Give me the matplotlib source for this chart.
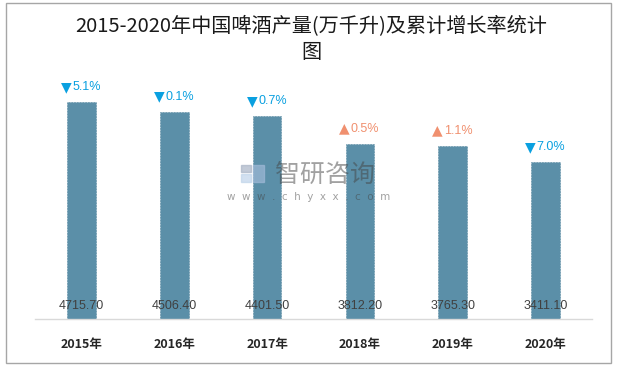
import matplotlib
matplotlib.use("Agg")
import matplotlib.pyplot as plt
from matplotlib.patches import Rectangle

years = ["2015年", "2016年", "2017年", "2018年", "2019年", "2020年"]
output = [4715.70, 4506.40, 4401.50, 3812.20, 3765.30, 3411.10]
growth = [-5.1, -0.1, -0.7, 0.5, 1.1, -7.0]
title = "2015-2020年中国啤酒产量(万千升)及累计增长率统计\n图"

BAR = "#5B8FA8"
DOWN = "#0AA0E0"
UP = "#F0906F"

fig = plt.figure(figsize=(6.2, 3.68), dpi=100)
fig.patches.append(Rectangle((6/620, 5/368), 605/620, 360/368, transform=fig.transFigure,
                             fill=False, edgecolor="#A6A6A6", linewidth=1.0))

ax = fig.add_axes([35/620, (368-319)/368, 557/620, (319-70)/368])
x = list(range(len(years)))
ax.bar(x, output, width=0.31, color=BAR, edgecolor="#52849C", linewidth=0.4,
       linestyle=(0, (3, 2)))
ax.set_xlim(-0.5, len(years) - 0.5)
ax.set_ylim(0, 5410)

for s in ["top", "left", "right"]:
    ax.spines[s].set_visible(False)
ax.spines["bottom"].set_color("#D9D9D9")
ax.spines["bottom"].set_linewidth(1.0)
ax.set_yticks([])
ax.set_xticks(x)
ax.set_xticklabels(years, fontsize=9, fontweight="bold", color="#262626",
                   family=["Noto Sans CJK SC", "DejaVu Sans"])
ax.tick_params(axis="x", length=0, pad=14)

for xi, v, g in zip(x, output, growth):
    ax.annotate(f"{v:.2f}", (xi, 0), xytext=(0, 13), textcoords="offset pixels",
                ha="center", va="center", fontsize=9, color="#404040",
                family=["Liberation Sans", "DejaVu Sans"])
    sym = "▼" if g < 0 else "▲"
    col = DOWN if g < 0 else UP
    ax.annotate(sym, (xi, v), xytext=(-10, 15), textcoords="offset pixels",
                ha="right", va="center", fontsize=10, color=col,
                family=["DejaVu Sans"])
    ax.annotate(f"{abs(g):.1f}%", (xi, v), xytext=(-9, 15), textcoords="offset pixels",
                ha="left", va="center", fontsize=9, color=col,
                family=["Liberation Sans", "DejaVu Sans"])

fig.text(311/620, 1 - 40/368, title, ha="center", va="center", fontsize=14.5,
         color="#1a1a1a", family=["Noto Sans CJK SC", "DejaVu Sans"], linespacing=1.3)

# watermark
fig.text(325/620, 1 - 175/368, "智研咨询", ha="center", va="center", fontsize=18,
         color="#444444", alpha=0.5, family=["Noto Sans CJK SC", "DejaVu Sans"], zorder=5)
fig.text(309/620, 1 - 197/368, "w  w  w  .  c  h  y  x  x  .  c  o  m", ha="center", va="center",
         fontsize=7.5, color="#444444", alpha=0.5, family=["DejaVu Sans"], zorder=5)
for (lx, ly, lw, lh, c) in [(241, 165, 10, 7, "#A9B4C6"), (253, 165, 11, 17, "#9FB9D6"),
                            (241, 174, 10, 8, "#BFD4EA")]:
    fig.patches.append(Rectangle((lx/620, 1 - (ly + lh)/368), lw/620, lh/368,
                                 transform=fig.transFigure, color=c, alpha=0.7, zorder=5))

fig.savefig("out.png", dpi=100)
